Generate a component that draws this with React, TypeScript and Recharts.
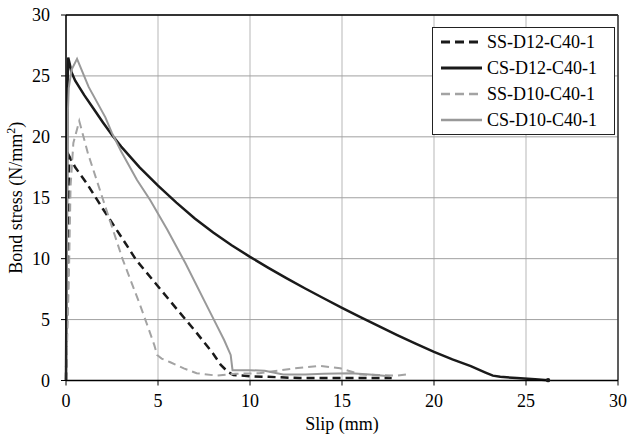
import { LineChart, Line, XAxis, YAxis, CartesianGrid, Legend, ReferenceLine } from "recharts";

const FONT = "'Liberation Serif', 'Times New Roman', serif";

const xTicks = [0, 5, 10, 15, 20, 25, 30];
const yTicks = [0, 5, 10, 15, 20, 25, 30];

// SS-D12-C40-1
const ssD12Slip = [0, 0.08, 0.14, 0.18, 0.5, 1.12, 2.0, 3.0, 3.81, 4.85, 6.0, 7.0, 8.0, 8.4, 8.8, 9.1, 10.0, 11.0, 12.7, 15.0, 17.7];
const ssD12Stress = [0, 8, 16, 18.4, 17.5, 16.2, 14.1, 11.8, 9.9, 8.0, 5.9, 4.1, 2.2, 1.3, 0.7, 0.45, 0.35, 0.3, 0.2, 0.2, 0.2];

// CS-D12-C40-1
const csD12Slip = [0, 0.04, 0.08, 0.12, 0.2, 0.3, 0.5, 1.0, 1.5, 2.0, 2.5, 3.0, 4.0, 5.0, 6.0, 7.0, 8.0, 9.0, 10.0, 11.0, 12.0, 13.0, 14.0, 15.0, 16.0, 17.0, 18.0, 19.0, 20.0, 21.0, 22.0, 22.8, 23.2, 23.6, 24.5, 25.5, 26.2];
const csD12Stress = [0, 12, 24, 26.5, 26.0, 25.3, 24.6, 23.4, 22.3, 21.2, 20.15, 19.2, 17.5, 16.0, 14.6, 13.3, 12.15, 11.1, 10.15, 9.25, 8.38, 7.55, 6.75, 5.97, 5.21, 4.46, 3.73, 3.03, 2.35, 1.73, 1.18, 0.65, 0.4, 0.3, 0.2, 0.1, 0.03];

// SS-D10-C40-1
const ssD10Slip = [0, 0.15, 0.25, 0.4, 0.72, 1.2, 2.37, 3.09, 4.0, 4.5, 4.8, 4.95, 5.2, 5.67, 6.4, 7.1, 8.2, 9.2, 10.5, 11.5, 12.4, 13.8, 14.9, 16.0, 17.0, 18.0, 18.5];
const ssD10Stress = [0, 8, 16, 19.5, 21.3, 18.6, 13.2, 9.9, 6.3, 4.2, 2.9, 2.1, 1.8, 1.5, 1.0, 0.6, 0.4, 0.55, 0.6, 0.8, 1.0, 1.2, 1.0, 0.5, 0.45, 0.4, 0.5];

// CS-D10-C40-1
const csD10Slip = [0, 0.05, 0.1, 0.15, 0.3, 0.6, 1.23, 2.14, 2.5, 3.0, 3.86, 4.58, 5.5, 6.5, 7.5, 8.2, 8.6, 8.95, 9.05, 10.0, 10.8, 11.8, 13.0, 14.0, 15.5, 16.5, 17.6];
const csD10Stress = [0, 10, 22, 24, 25.5, 26.4, 24.1, 21.6, 20.3, 18.8, 16.45, 14.8, 12.4, 9.6, 6.6, 4.5, 3.3, 2.1, 0.85, 0.85, 0.8, 0.5, 0.5, 0.55, 0.6, 0.5, 0.35];

const zip = (xs: number[], ys: number[]) => xs.map((x, i) => ({ x, y: ys[i] }));

const series = [
  { name: "SS-D12-C40-1", data: zip(ssD12Slip, ssD12Stress), color: "#1a1a1a", width: 2.5, dash: "8 5", endDot: false },
  { name: "CS-D12-C40-1", data: zip(csD12Slip, csD12Stress), color: "#1a1a1a", width: 2.5, dash: undefined, endDot: true },
  { name: "SS-D10-C40-1", data: zip(ssD10Slip, ssD10Stress), color: "#a3a3a3", width: 2, dash: "8 5", endDot: false },
  { name: "CS-D10-C40-1", data: zip(csD10Slip, csD10Stress), color: "#999999", width: 2, dash: undefined, endDot: false },
];

function renderLegend() {
  return (
    <div style={{ border: "1px solid #222", background: "#fff", padding: "1px 8px", fontFamily: FONT, fontSize: 18, color: "#000" }}>
      {series.map((s) => (
        <div key={s.name} style={{ display: "flex", alignItems: "center", height: 26 }}>
          <svg width={41} height={6} style={{ display: "block", flexShrink: 0 }}>
            <line x1={0} y1={3} x2={41} y2={3} stroke={s.color} strokeWidth={s.width + 0.5} strokeDasharray={s.dash ? "9 5" : undefined} />
          </svg>
          <span style={{ marginLeft: 5, whiteSpace: "nowrap" }}>{s.name}</span>
        </div>
      ))}
    </div>
  );
}

const YLabel = (props: any) => {
  const vb = props.viewBox;
  const cx = vb.x - 4;
  const cy = vb.y + vb.height / 2;
  return (
    <text transform={`translate(${cx},${cy}) rotate(-90)`} textAnchor="middle" fontFamily={FONT} fontSize={18} fill="#000">
      Bond stress (N/mm<tspan fontSize={12} dy={-7}>2</tspan><tspan dy={7}>)</tspan>
    </text>
  );
};

const XLabel = (props: any) => {
  const vb = props.viewBox;
  return (
    <text x={vb.x + vb.width / 2} y={430} textAnchor="middle" fontFamily={FONT} fontSize={18} fill="#000">
      Slip (mm)
    </text>
  );
};

export default function App() {
  return (
    <div style={{ position: "absolute", left: 0, top: 0, width: 629, height: 438, background: "#fff" }}>
      <LineChart width={629} height={438} margin={{ top: 15, right: 11, left: 26, bottom: 7.5 }} style={{ fontFamily: FONT }}>
        <CartesianGrid horizontal={false} stroke="#c8c8c8" strokeWidth={1.3} />
        <CartesianGrid vertical={false} stroke="#a0a0a0" strokeWidth={1} />
        <XAxis
          type="number"
          dataKey="x"
          domain={[0, 30]}
          ticks={xTicks}
          height={50}
          tickSize={5}
          tickMargin={9}
          tick={{ fontSize: 18, fill: "#000", fontFamily: FONT }}
          axisLine={{ stroke: "#000", strokeWidth: 1.5 }}
          tickLine={{ stroke: "#000" }}
          label={<XLabel />}
        />
        <YAxis
          type="number"
          domain={[0, 30]}
          ticks={yTicks}
          width={40}
          tickSize={5}
          tickMargin={11}
          tick={{ fontSize: 18, fill: "#000", fontFamily: FONT }}
          axisLine={{ stroke: "#000", strokeWidth: 1.5 }}
          tickLine={{ stroke: "#000" }}
          label={<YLabel />}
        />
        <ReferenceLine y={30} stroke="#000" strokeWidth={1.5} />
        <ReferenceLine x={30} stroke="#333" strokeWidth={1.5} />
        {series.map((s) => (
          <Line
            key={s.name}
            data={s.data}
            dataKey="y"
            name={s.name}
            type="linear"
            stroke={s.color}
            strokeWidth={s.width}
            strokeDasharray={s.dash}
            dot={(p: any) =>
              s.endDot && p.index === s.data.length - 1 ? (
                <circle key={p.key} cx={p.cx} cy={p.cy} r={2.2} fill={s.color} stroke="none" />
              ) : (
                <g key={p.key} />
              )
            }
            activeDot={false}
            isAnimationActive={false}
          />
        ))}
        <Legend
          layout="vertical"
          align="center"
          verticalAlign="middle"
          content={renderLegend}
          wrapperStyle={{ position: "absolute", left: 432, top: 27, width: 183, height: 108 }}
        />
      </LineChart>
    </div>
  );
}
